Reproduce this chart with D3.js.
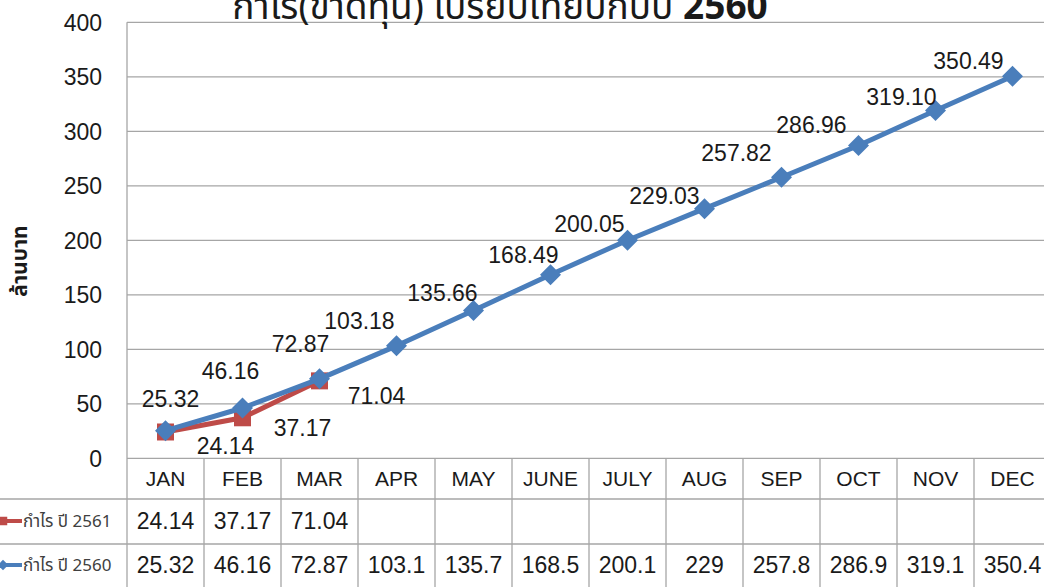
<!DOCTYPE html>
<html>
<head>
<meta charset="utf-8">
<script src="https://cdn.jsdelivr.net/npm/d3@7"></script>
<style>
  body { margin: 0; background: #fff; }
  svg { display: block; }
  text { fill: #1a1a1a; }
</style>
</head>
<body>
<div id="chart"></div>
<script>
// data
var months = ["JAN", "FEB", "MAR", "APR", "MAY", "JUNE", "JULY", "AUG", "SEP", "OCT", "NOV", "DEC"];
var profit2561 = [24.14, 37.17, 71.04];
var profit2560 = [25.32, 46.16, 72.87, 103.18, 135.66, 168.49, 200.05, 229.03, 257.82, 286.96, 319.10, 350.49];
var labels2561 = ["24.14", "37.17", "71.04"];
var labels2560 = ["25.32", "46.16", "72.87", "103.18", "135.66", "168.49", "200.05", "229.03", "257.82", "286.96", "319.10", "350.49"];
var table2561 = ["24.14", "37.17", "71.04"];
var table2560 = ["25.32", "46.16", "72.87", "103.1", "135.7", "168.5", "200.1", "229", "257.8", "286.9", "319.1", "350.4"];
var yTicks = [0, 50, 100, 150, 200, 250, 300, 350, 400];
var seriesNames = ["กำไร ปี 2561", "กำไร ปี 2560"];
var titleText = "กำไร(ขาดทุน) เปรียบเทียบกับปี ";
var titleYear = "2560";
var yAxisTitle = "ล้านบาท";

// where the data labels sit, relative to their point (layout only)
var offsets2560 = [[5,-32],[-12,-37],[-19,-35],[-37,-25],[-31,-18],[-27,-20],[-38,-17],[-40,-13],[-45,-25],[-47,-21],[-34,-14],[-44,-16]];
var offsets2561 = [[60,14],[60,10],[57,15]];

var width = 1044, height = 587;
var plot = { left: 127, right: 1051, top: 22.3, bottom: 458.3 };
var rowLines = [458.3, 499, 544, 600];
var numFont = "'Liberation Sans', Arial, sans-serif";
var thaiFont = "'Noto Sans Thai', 'Noto Sans', 'DejaVu Sans', sans-serif";
var gridColor = "#a6a6a6";
var red = "#be4b48", blue = "#4a7ebb";

var svg, x, y;

createSVG();
createScales();
drawGrid();
drawTitle();
drawTable();
drawSeries(profit2561, red, "square", labels2561, offsets2561);
drawSeries(profit2560, blue, "diamond", labels2560, offsets2560);

function createSVG() {
  svg = d3.select("#chart")
    .append("svg")
      .attr("width", width)
      .attr("height", height);
}

function createScales() {
  x = d3.scaleBand()
    .domain(months)
    .range([plot.left, plot.right]);
  y = d3.scaleLinear()
    .domain([0, 400])
    .range([plot.bottom, plot.top]);
}

function drawGrid() {
  svg.append("g")
    .selectAll("line")
    .data(yTicks)
    .enter()
      .append("line")
      .attr("x1", plot.left)
      .attr("x2", width)
      .attr("y1", function(d) { return y(d); })
      .attr("y2", function(d) { return y(d); })
      .attr("stroke", gridColor)
      .attr("stroke-width", 1.3);

  svg.append("line")
    .attr("x1", plot.left).attr("x2", plot.left)
    .attr("y1", plot.top).attr("y2", height)
    .attr("stroke", gridColor)
    .attr("stroke-width", 1.3);

  svg.append("g")
    .selectAll("text")
    .data(yTicks)
    .enter()
      .append("text")
      .attr("x", 102)
      .attr("y", function(d) { return y(d); })
      .attr("dy", "0.36em")
      .attr("text-anchor", "end")
      .style("font-family", numFont)
      .style("font-size", "23px")
      .text(function(d) { return d; });

  // y axis title, read bottom to top
  svg.append("text")
    .attr("transform", "translate(20,261) rotate(-90)")
    .attr("text-anchor", "middle")
    .attr("dy", "0.35em")
    .style("font-family", thaiFont)
    .style("font-size", "21px")
    .style("font-weight", "bold")
    .text(yAxisTitle);
}

function drawTitle() {
  var t = svg.append("text")
    .attr("x", 500)
    .attr("y", 19)
    .attr("text-anchor", "middle")
    .style("font-family", thaiFont)
    .style("font-size", "37px");
  t.append("tspan").text(titleText);
  t.append("tspan").style("font-weight", "bold").text(titleYear);
}

function drawTable() {
  var g = svg.append("g").attr("class", "data-table");

  // horizontal row lines (first one is the category axis)
  g.selectAll("line.row")
    .data(rowLines.slice(1, 3))
    .enter()
      .append("line")
      .attr("class", "row")
      .attr("x1", 0).attr("x2", width)
      .attr("y1", function(d) { return d; })
      .attr("y2", function(d) { return d; })
      .attr("stroke", gridColor)
      .attr("stroke-width", 1.3);

  // column lines
  g.selectAll("line.col")
    .data(months)
    .enter()
      .append("line")
      .attr("class", "col")
      .attr("x1", function(d) { return x(d) + x.bandwidth(); })
      .attr("x2", function(d) { return x(d) + x.bandwidth(); })
      .attr("y1", plot.bottom).attr("y2", height)
      .attr("stroke", gridColor)
      .attr("stroke-width", 1.3);

  // month headers
  g.selectAll("text.month")
    .data(months)
    .enter()
      .append("text")
      .attr("class", "month")
      .attr("x", function(d) { return x(d) + x.bandwidth() / 2; })
      .attr("y", (rowLines[0] + rowLines[1]) / 2)
      .attr("dy", "0.36em")
      .attr("text-anchor", "middle")
      .style("font-family", numFont)
      .style("font-size", "21px")
      .text(function(d) { return d; });

  var rows = [
    { values: table2561, name: seriesNames[0], color: red, marker: "square", cy: 521 },
    { values: table2560, name: seriesNames[1], color: blue, marker: "diamond", cy: 565 }
  ];

  rows.forEach(function(row, i) {
    var cy = row.cy;

    g.selectAll("text.val" + i)
      .data(row.values)
      .enter()
        .append("text")
        .attr("class", "val" + i)
        .attr("x", function(d, j) { return x(months[j]) + x.bandwidth() / 2; })
        .attr("y", cy)
        .attr("dy", "0.36em")
        .attr("text-anchor", "middle")
        .style("font-family", numFont)
        .style("font-size", "23px")
        .text(function(d) { return d; });

    // legend key
    g.append("line")
      .attr("x1", 0).attr("x2", 22)
      .attr("y1", cy).attr("y2", cy)
      .attr("stroke", row.color)
      .attr("stroke-width", 4);
    g.append("path")
      .attr("d", markerPath(row.marker, 0.5))
      .attr("transform", "translate(3," + cy + ")")
      .attr("fill", row.color);
    g.append("text")
      .attr("x", 23)
      .attr("y", cy)
      .attr("dy", "0.35em")
      .style("font-family", thaiFont)
      .style("font-size", "17px")
      .style("fill", "#404040")
      .text(row.name);
  });
}

function markerPath(kind, k) {
  if (kind === "square") {
    var s = 8.5 * k;
    return "M" + (-s) + "," + (-s) + "H" + s + "V" + s + "H" + (-s) + "Z";
  }
  var r = 10.5 * k;
  return "M0," + (-r) + "L" + r + ",0L0," + r + "L" + (-r) + ",0Z";
}

function drawSeries(values, color, marker, labels, offsets) {
  var line = d3.line()
    .x(function(d, i) { return x(months[i]) + x.bandwidth() / 2; })
    .y(function(d) { return y(d); });

  var g = svg.append("g");

  g.append("path")
    .datum(values)
    .attr("d", line)
    .attr("fill", "none")
    .attr("stroke", color)
    .attr("stroke-width", 5)
    .attr("stroke-linejoin", "round");

  g.selectAll("path.marker")
    .data(values)
    .enter()
      .append("path")
      .attr("class", "marker")
      .attr("d", markerPath(marker, 1))
      .attr("transform", function(d, i) {
        return "translate(" + (x(months[i]) + x.bandwidth() / 2) + "," + y(d) + ")";
      })
      .attr("fill", color);

  g.selectAll("text")
    .data(values)
    .enter()
      .append("text")
      .attr("x", function(d, i) { return x(months[i]) + x.bandwidth() / 2 + offsets[i][0]; })
      .attr("y", function(d, i) { return y(d) + offsets[i][1]; })
      .attr("dy", "0.36em")
      .attr("text-anchor", "middle")
      .style("font-family", numFont)
      .style("font-size", "23px")
      .text(function(d, i) { return labels[i]; });
}
</script>
</body>
</html>
